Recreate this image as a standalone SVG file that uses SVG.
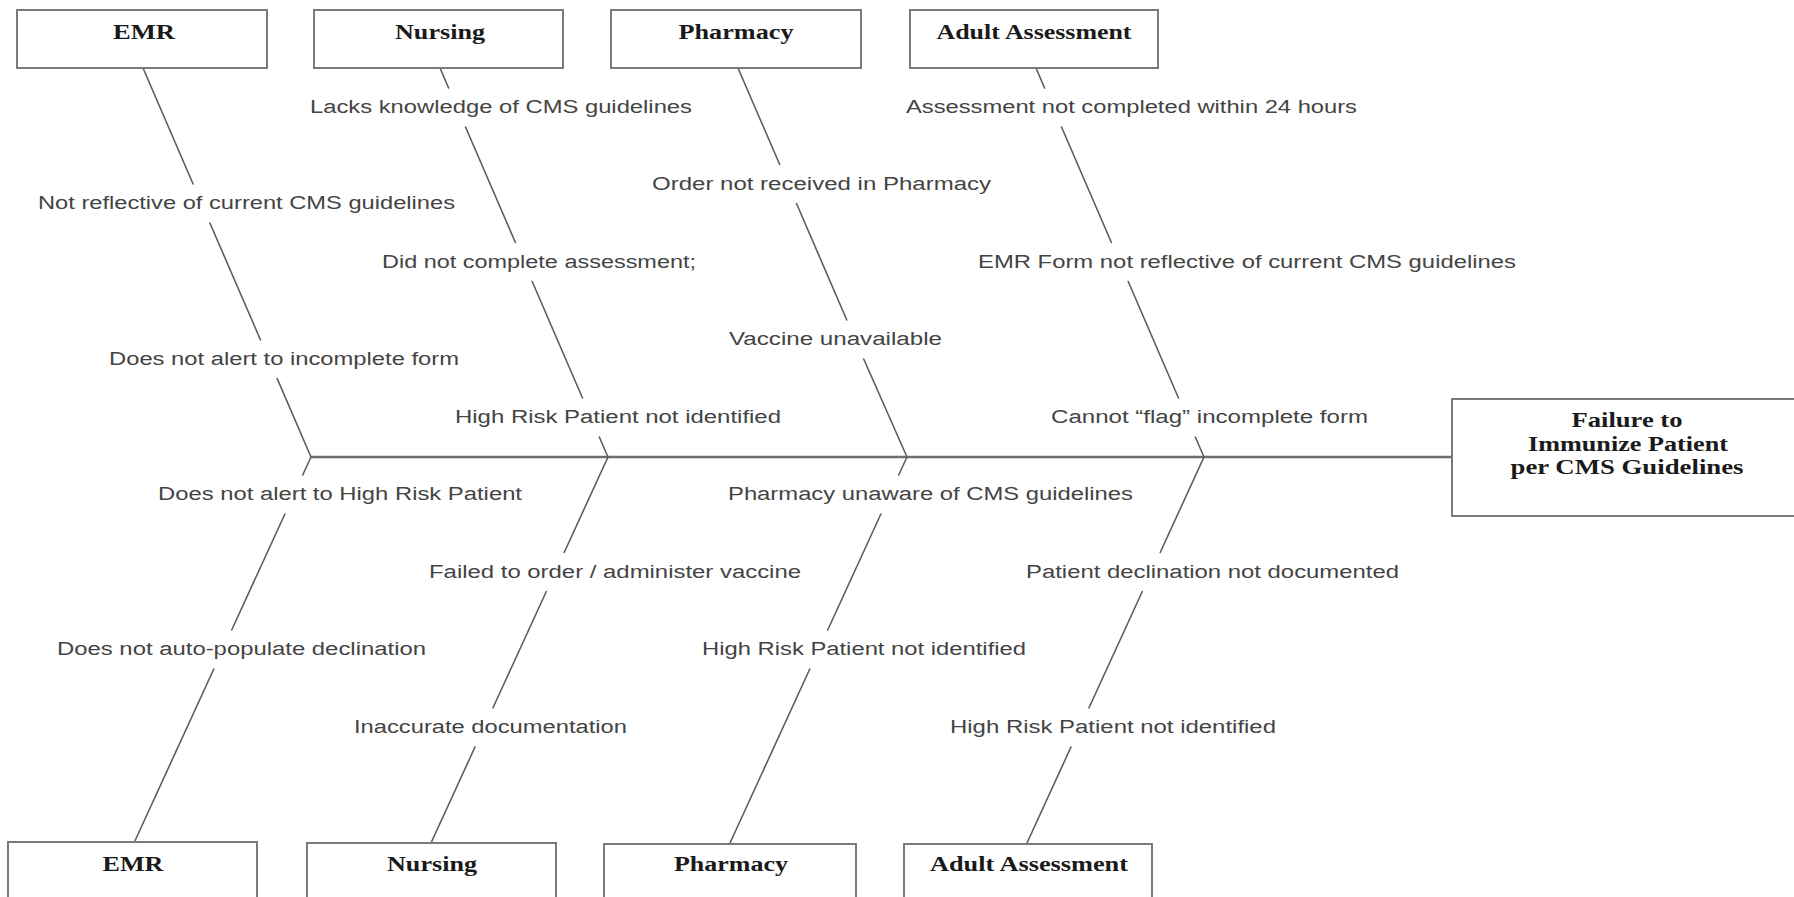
<svg xmlns="http://www.w3.org/2000/svg" width="1794" height="897" viewBox="0 0 1794 897">
<style>
.box{fill:#fff;stroke:#7a7a7a;stroke-width:2}
.bt{font-family:"Liberation Serif","Times New Roman",serif;font-weight:bold;font-size:20px;fill:#1a1a1a;text-anchor:middle}
.et{font-family:"Liberation Serif","Times New Roman",serif;font-weight:bold;font-size:21px;fill:#1a1a1a;text-anchor:middle}
.lb{font-family:"Liberation Sans",Arial,sans-serif;font-size:18px;fill:#444}
.bone{stroke:#5e5e5e;stroke-width:1.6;fill:none;stroke-linecap:round}
.spine{stroke:#6e6e6e;stroke-width:2.6;fill:none}
</style>
<rect width="1794" height="897" fill="#fff"/>
<g id="connectors">
<line class="spine" x1="311" y1="457" x2="1452" y2="457"/>
<path class="bone" d="M143,68 L193.1,184 M209.9,223 L260.5,340 M277.2,378.6 L311,457"/>
<path class="bone" d="M440,68 L448.6,88 M465.5,127 L515.4,242.5 M532.2,281.5 L582.5,398 M599.3,437 L608,457"/>
<path class="bone" d="M738,68 L779.7,164.5 M796.5,203.5 L846.8,320 M863.7,359 L907,457"/>
<path class="bone" d="M1036,68 L1044.6,88 M1061.5,127 L1111.4,242.5 M1128.2,281.5 L1178.5,398 M1195.3,437 L1204,457"/>
<path class="bone" d="M311,457 L302.7,475 M284.9,514 L231.7,630 M213.8,669 L134,843"/>
<path class="bone" d="M608,457 L564.2,552.5 M546.3,591.5 L492.9,708 M475,747 L431,843"/>
<path class="bone" d="M907,457 L898.7,475 M880.9,514 L827.7,630 M809.8,669 L730,843"/>
<path class="bone" d="M1204,457 L1160.2,552.5 M1142.3,591.5 L1088.9,708 M1071,747 L1027,843"/>
</g>
<g id="emr-top"><rect class="box" x="17" y="10" width="250" height="58"/><text class="bt" x="144" y="39" textLength="62" lengthAdjust="spacingAndGlyphs">EMR</text></g>
<g id="nursing-top"><rect class="box" x="314" y="10" width="249" height="58"/><text class="bt" x="440" y="39" textLength="90" lengthAdjust="spacingAndGlyphs">Nursing</text></g>
<g id="pharmacy-top"><rect class="box" x="611" y="10" width="250" height="58"/><text class="bt" x="736" y="39" textLength="115" lengthAdjust="spacingAndGlyphs">Pharmacy</text></g>
<g id="adult-top"><rect class="box" x="910" y="10" width="248" height="58"/><text class="bt" x="1034" y="39" textLength="195" lengthAdjust="spacingAndGlyphs">Adult Assessment</text></g>
<g id="emr-bottom"><rect class="box" x="8" y="842" width="249" height="70"/><text class="bt" x="133" y="871" textLength="61" lengthAdjust="spacingAndGlyphs">EMR</text></g>
<g id="nursing-bottom"><rect class="box" x="307" y="843" width="249" height="70"/><text class="bt" x="432" y="871" textLength="90" lengthAdjust="spacingAndGlyphs">Nursing</text></g>
<g id="pharmacy-bottom"><rect class="box" x="604" y="844" width="252" height="70"/><text class="bt" x="731" y="871" textLength="114" lengthAdjust="spacingAndGlyphs">Pharmacy</text></g>
<g id="adult-bottom"><rect class="box" x="904" y="844" width="248" height="70"/><text class="bt" x="1029" y="871" textLength="198" lengthAdjust="spacingAndGlyphs">Adult Assessment</text></g>
<g id="effect"><rect class="box" x="1452" y="399" width="360" height="117"/>
<text class="et" x="1627" y="427" textLength="111" lengthAdjust="spacingAndGlyphs">Failure to</text>
<text class="et" x="1628" y="450.5" textLength="200" lengthAdjust="spacingAndGlyphs">Immunize Patient</text>
<text class="et" x="1627" y="474" textLength="233" lengthAdjust="spacingAndGlyphs">per CMS Guidelines</text></g>
<g id="causes">
<text class="lb" x="310" y="113" textLength="382" lengthAdjust="spacingAndGlyphs">Lacks knowledge of CMS guidelines</text>
<text class="lb" x="906" y="113" textLength="451" lengthAdjust="spacingAndGlyphs">Assessment not completed within 24 hours</text>
<text class="lb" x="38" y="209" textLength="417" lengthAdjust="spacingAndGlyphs">Not reflective of current CMS guidelines</text>
<text class="lb" x="652" y="189.5" textLength="339" lengthAdjust="spacingAndGlyphs">Order not received in Pharmacy</text>
<text class="lb" x="382" y="267.5" textLength="314" lengthAdjust="spacingAndGlyphs">Did not complete assessment;</text>
<text class="lb" x="978" y="267.5" textLength="538" lengthAdjust="spacingAndGlyphs">EMR Form not reflective of current CMS guidelines</text>
<text class="lb" x="109" y="364.5" textLength="350" lengthAdjust="spacingAndGlyphs">Does not alert to  incomplete form</text>
<text class="lb" x="729" y="345" textLength="213" lengthAdjust="spacingAndGlyphs">Vaccine unavailable</text>
<text class="lb" x="455" y="423" textLength="326" lengthAdjust="spacingAndGlyphs">High Risk Patient not identified</text>
<text class="lb" x="1051" y="423" textLength="317" lengthAdjust="spacingAndGlyphs">Cannot “flag” incomplete form</text>
<text class="lb" x="158" y="500" textLength="364" lengthAdjust="spacingAndGlyphs">Does not alert to High Risk Patient</text>
<text class="lb" x="728" y="500" textLength="405" lengthAdjust="spacingAndGlyphs">Pharmacy unaware of CMS guidelines</text>
<text class="lb" x="429" y="577.5" textLength="372" lengthAdjust="spacingAndGlyphs">Failed to order / administer vaccine</text>
<text class="lb" x="1026" y="577.5" textLength="373" lengthAdjust="spacingAndGlyphs">Patient declination not documented</text>
<text class="lb" x="57" y="655" textLength="369" lengthAdjust="spacingAndGlyphs">Does not auto-populate declination</text>
<text class="lb" x="702" y="655" textLength="324" lengthAdjust="spacingAndGlyphs">High Risk Patient not identified</text>
<text class="lb" x="354" y="733" textLength="273" lengthAdjust="spacingAndGlyphs">Inaccurate documentation</text>
<text class="lb" x="950" y="733" textLength="326" lengthAdjust="spacingAndGlyphs">High Risk Patient not identified</text>
</g>
</svg>
